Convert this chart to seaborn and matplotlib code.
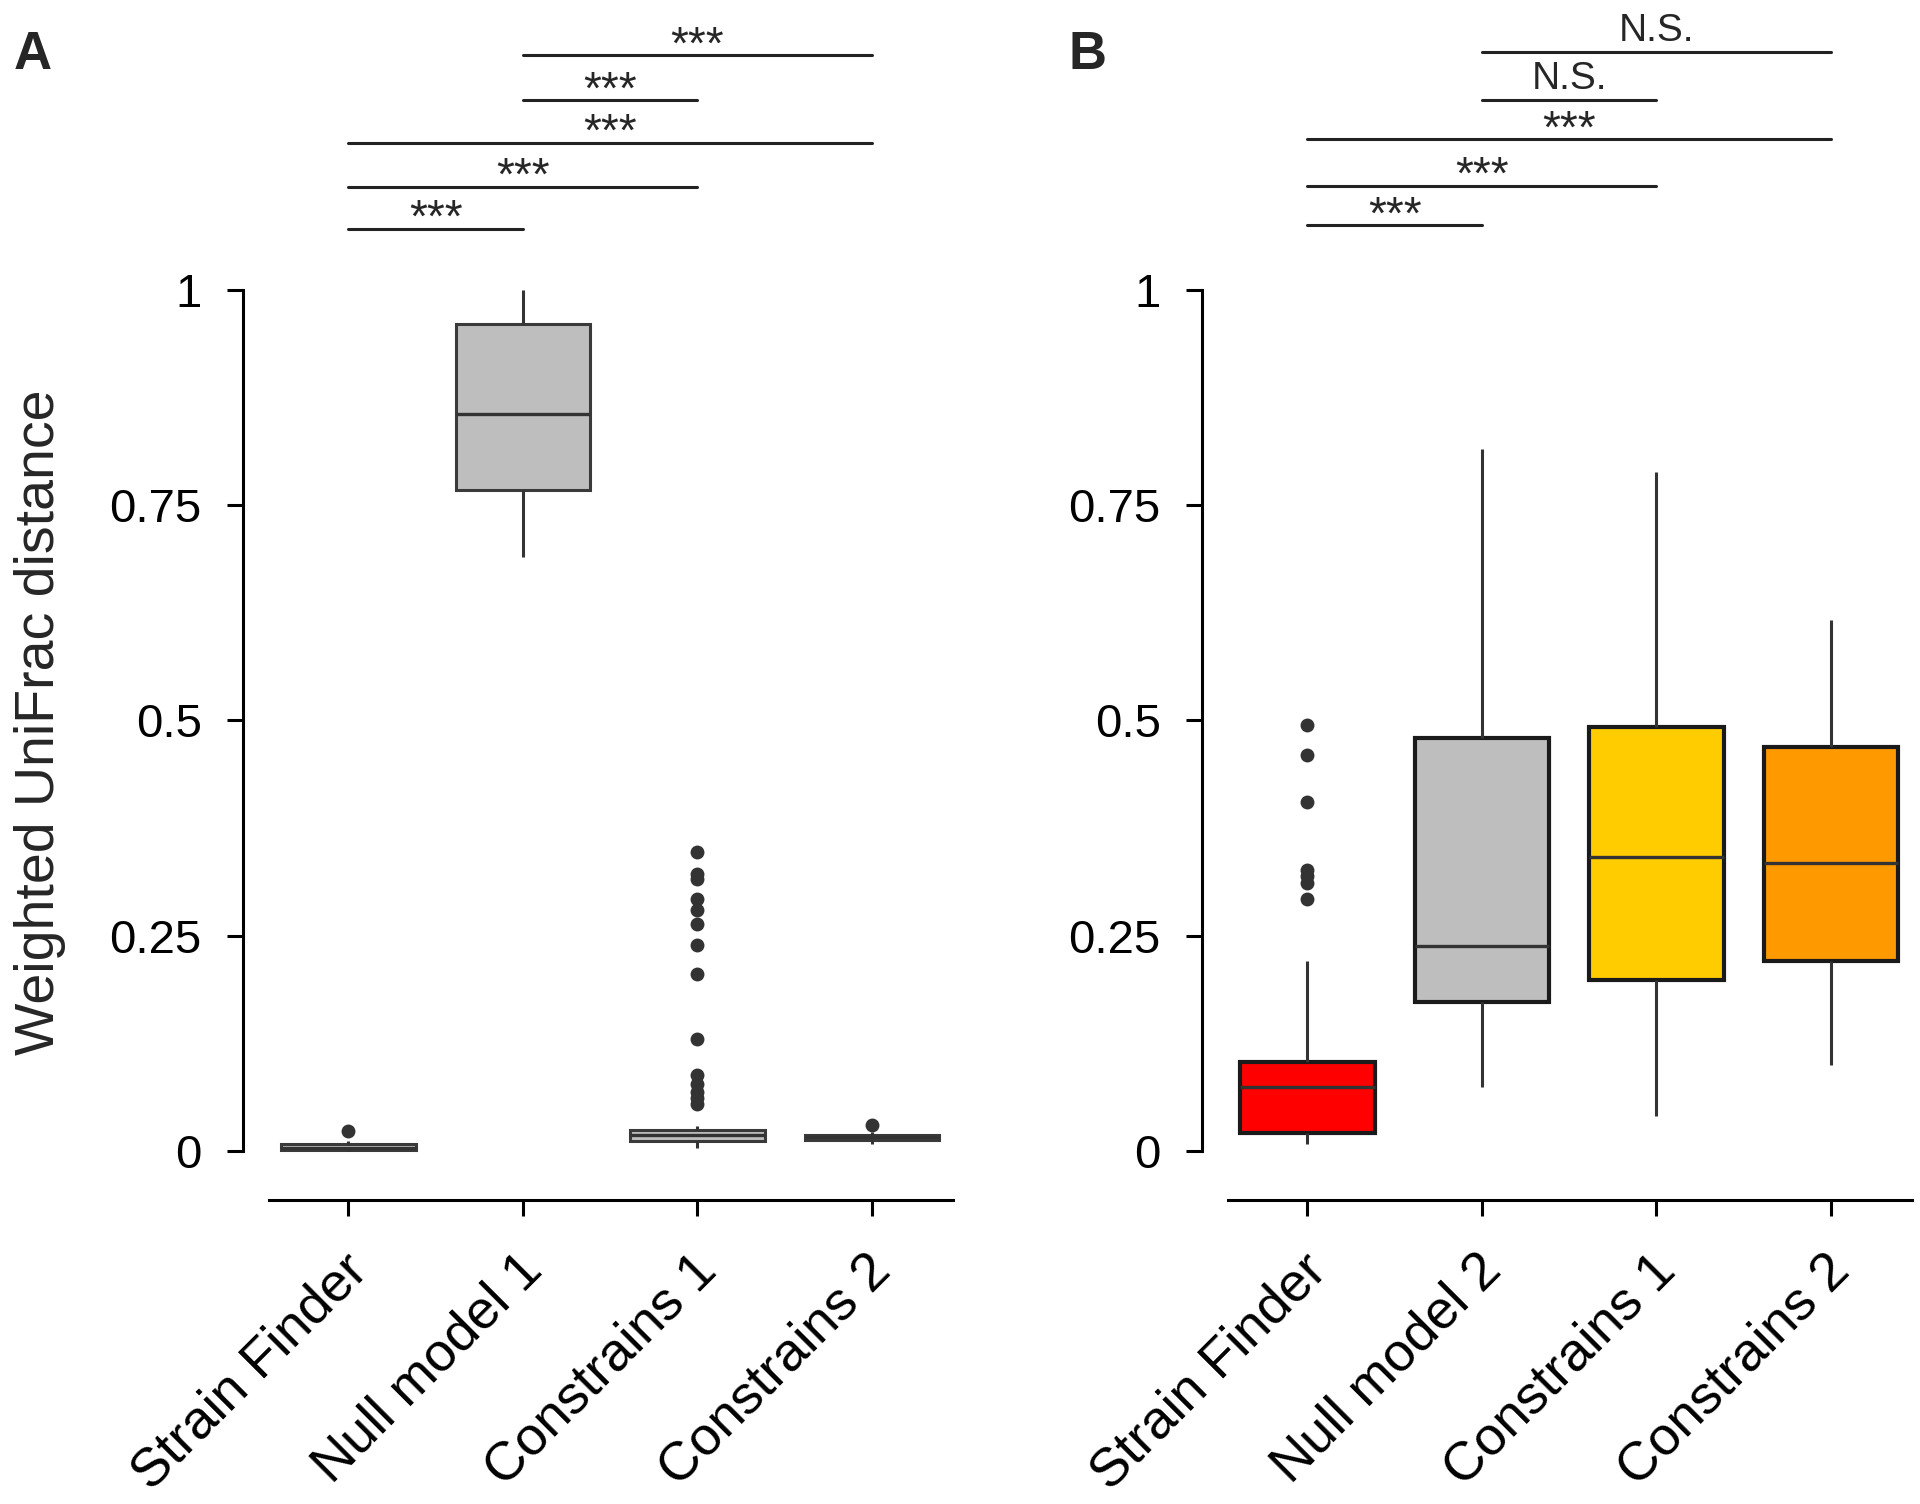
import numpy as np
import pandas as pd
import seaborn as sns
import matplotlib
matplotlib.use("Agg")
import matplotlib.pyplot as plt
from matplotlib.transforms import ScaledTranslation

# ---------------- data ----------------
groups_a = ["Strain Finder", "Null model 1", "Constrains 1", "Constrains 2"]
whislo_a = [0.0, 0.690, 0.003, 0.008]
q1_a = [0.0005, 0.767, 0.012, 0.013]
med_a = [0.003, 0.856, 0.018, 0.016]
q3_a = [0.008, 0.960, 0.024, 0.019]
whishi_a = [0.011, 1.0, 0.029, 0.022]
fliers_a = [
    [0.023],
    [],
    [0.055, 0.062, 0.068, 0.078, 0.088, 0.130, 0.205, 0.239,
     0.263, 0.280, 0.293, 0.316, 0.322, 0.347],
    [0.030],
]
colors_a = ["#BEBEBE", "#BEBEBE", "#BEBEBE", "#BEBEBE"]

groups_b = ["Strain Finder", "Null model 2", "Constrains 1", "Constrains 2"]
whislo_b = [0.008, 0.074, 0.040, 0.100]
q1_b = [0.021, 0.1735, 0.198, 0.2205]
med_b = [0.074, 0.2376, 0.341, 0.334]
q3_b = [0.103, 0.479, 0.492, 0.469]
whishi_b = [0.221, 0.815, 0.789, 0.617]
fliers_b = [
    [0.293, 0.311, 0.319, 0.326, 0.405, 0.460, 0.495],
    [],
    [],
    [],
]
colors_b = ["#FF0000", "#BEBEBE", "#FFCC00", "#FF9900"]

# significance brackets: (left group, right group, height, label)
sig_a = [(1, 3, 1.273, "***"), (1, 2, 1.220, "***"), (0, 3, 1.171, "***"),
         (0, 2, 1.120, "***"), (0, 1, 1.071, "***")]
sig_b = [(1, 3, 1.276, "N.S."), (1, 2, 1.220, "N.S."), (0, 3, 1.175, "***"),
         (0, 2, 1.121, "***"), (0, 1, 1.075, "***")]

yticks = [0, 0.25, 0.5, 0.75, 1]
yticklabels = ["0", "0.25", "0.5", "0.75", "1"]


def build_frame(groups, lo, q1, med, q3, hi, fliers):
    # rebuild a sample whose quartiles / whiskers match the drawn boxes
    rows = []
    for i, g in enumerate(groups):
        k = len(fliers[i]) + 1
        vals = [lo[i]] + [q1[i]] * k + [med[i]] * k + [q3[i]] * k + [hi[i]] + fliers[i]
        rows += [(g, v) for v in vals]
    return pd.DataFrame(rows, columns=["method", "dist"])


sns.set_theme(style="white")
plt.rcParams["font.family"] = ["Liberation Sans", "DejaVu Sans"]

fig = plt.figure(figsize=(19.2, 15.04), dpi=100)

W, H = 1920, 1504
ax_bottom = 1 - 1200 / H
ax_height = (1200 - 10) / H
ax_a = fig.add_axes([269 / W, ax_bottom, 684 / W, ax_height])
ax_b = fig.add_axes([1228 / W, ax_bottom, 684 / W, ax_height])

lw = 2.2


def draw_panel(ax, groups, lo, q1, med, q3, hi, fliers, colors, sig, letter, xl,
               edge, box_lw):
    df = build_frame(groups, lo, q1, med, q3, hi, fliers)
    sns.boxplot(data=df, x="method", y="dist", hue="method", order=groups,
                hue_order=groups, palette=colors, saturation=1, legend=False,
                width=0.77, showcaps=False, linecolor=edge, linewidth=box_lw,
                ax=ax,
                whiskerprops=dict(color="#333333", linewidth=lw),
                medianprops=dict(color="#333333", linewidth=2.4),
                flierprops=dict(marker="o", markerfacecolor="#333333",
                                markeredgecolor="#333333", markersize=9))
    ax.set_xlim(-0.455, 3.465)
    ax.set_ylim(-0.057, 1.325)
    ax.set_xlabel("")
    ax.set_ylabel("")
    for s in ["top", "right"]:
        ax.spines[s].set_visible(False)
    ax.spines["left"].set_position(("outward", 19))
    ax.spines["left"].set_bounds(0, 1)
    for s in ["left", "bottom"]:
        ax.spines[s].set_color("black")
        ax.spines[s].set_linewidth(lw)
    ax.tick_params(axis="both", direction="out", length=11.5, width=lw,
                   colors="black")
    ax.tick_params(axis="y", pad=18, left=True, labelsize=34)
    ax.tick_params(axis="x", pad=30, bottom=True, labelsize=39)
    ax.set_yticks(yticks)
    ax.set_yticklabels(yticklabels)
    ax.set_xticks(range(len(groups)))
    ax.set_xticklabels(groups, rotation=45, ha="right", rotation_mode="anchor",
                       va="center")
    shift = ScaledTranslation(0.11, -0.05, fig.dpi_scale_trans)
    for lab in ax.get_xticklabels():
        lab.set_transform(lab.get_transform() + shift)
    for a, b, h, lab in sig:
        ax.plot([a, b], [h, h], color="#222222", linewidth=lw, clip_on=False)
        if lab == "N.S.":
            ax.text((a + b) / 2, h + 0.013, lab, ha="center", va="baseline",
                    fontsize=28, clip_on=False)
        else:
            ax.text((a + b) / 2, h - 0.004, lab, ha="center", va="baseline",
                    fontsize=33, clip_on=False)
    fig.text(xl / W, 1 - 55 / H, letter, fontsize=38, fontweight="bold",
             ha="center", va="center",
             family=["Liberation Sans Narrow", "Liberation Sans", "DejaVu Sans"])


draw_panel(ax_a, groups_a, whislo_a, q1_a, med_a, q3_a, whishi_a, fliers_a,
           colors_a, sig_a, "A", 33, "#3a3a3a", 2.2)
draw_panel(ax_b, groups_b, whislo_b, q1_b, med_b, q3_b, whishi_b, fliers_b,
           colors_b, sig_b, "B", 1087, "#1a1a1a", 3)

fig.text(40 / W, 1 - 722 / H, "Weighted UniFrac distance", rotation=90,
         fontsize=40, ha="center", va="center")

fig.savefig("out.png", dpi=100)
